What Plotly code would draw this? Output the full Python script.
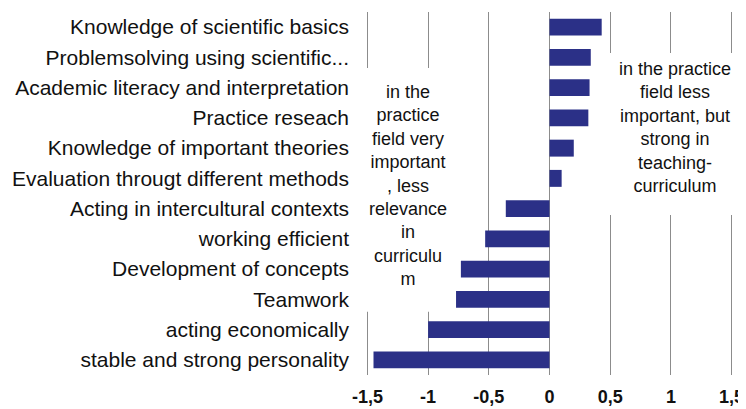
import plotly.graph_objects as go

categories = [
    "Knowledge of scientific basics",
    "Problemsolving using scientific...",
    "Academic literacy and interpretation",
    "Practice reseach",
    "Knowledge of important theories",
    "Evaluation througt different methods",
    "Acting in intercultural contexts",
    "working efficient",
    "Development of concepts",
    "Teamwork",
    "acting economically",
    "stable and strong personality",
]
values = [0.43, 0.34, 0.33, 0.32, 0.20, 0.10, -0.36, -0.53, -0.73, -0.77, -1.0, -1.45]

tick_vals = [-1.5, -1, -0.5, 0, 0.5, 1, 1.5]
tick_text = ["-1,5", "-1", "-0,5", "0", "0,5", "1", "1,5"]

left_note = "in the<br>practice<br>field very<br>important<br>, less<br>relevance<br>in<br>curriculu<br>m"
right_note = "in the practice<br>field less<br>important, but<br>strong in<br>teaching-<br>curriculum"

FONT = "Liberation Sans, Arial, sans-serif"

fig = go.Figure(go.Bar(
    x=values, y=categories, orientation="h",
    marker=dict(color="#2b3087", line=dict(width=0)),
))

# the page body has an 8px default margin, so the figure is offset by 8px
fig.update_layout(
    width=738, height=401,
    margin=dict(l=357, r=12, t=4, b=34),
    paper_bgcolor="white", plot_bgcolor="white",
    bargap=0.44,
    showlegend=False,
    font=dict(family=FONT, color="#111111"),
    xaxis=dict(
        range=[-1.52, 1.52], tickvals=tick_vals, ticktext=tick_text,
        showgrid=True, gridcolor="#8c8c8c", gridwidth=1,
        zeroline=True, zerolinecolor="#8c8c8c", zerolinewidth=1,
        showline=False, ticks="", automargin=False, ticklabelstandoff=9,
        ticklabeloverflow="allow",
        tickfont=dict(size=18, family=FONT, color="#111111", weight="bold"),
    ),
    yaxis=dict(
        categoryorder="array", categoryarray=categories[::-1],
        showgrid=False, zeroline=False, showline=False, ticks="",
        automargin=False, ticklabelstandoff=15,
        tickfont=dict(size=21, color="#111111"),
    ),
    shapes=[
        dict(type="rect", xref="x", yref="paper", x0=-1.56, x1=-0.8, y0=0.174, y1=0.846,
             fillcolor="white", line=dict(width=0), layer="above"),
        dict(type="rect", xref="x", yref="paper", x0=0.444, x1=1.62, y0=0.441, y1=0.887,
             fillcolor="white", line=dict(width=0), layer="above"),
    ],
    annotations=[
        dict(text=left_note, x=-1.167, y=0.522, xref="x", yref="paper",
             xanchor="center", yanchor="middle",
             showarrow=False, font=dict(size=18, color="#111111"), align="center"),
        dict(text=right_note, x=1.03, y=0.683, xref="x", yref="paper",
             xanchor="center", yanchor="middle",
             showarrow=False, font=dict(size=18, color="#111111"), align="center"),
    ],
)

fig.write_html("out.html")
